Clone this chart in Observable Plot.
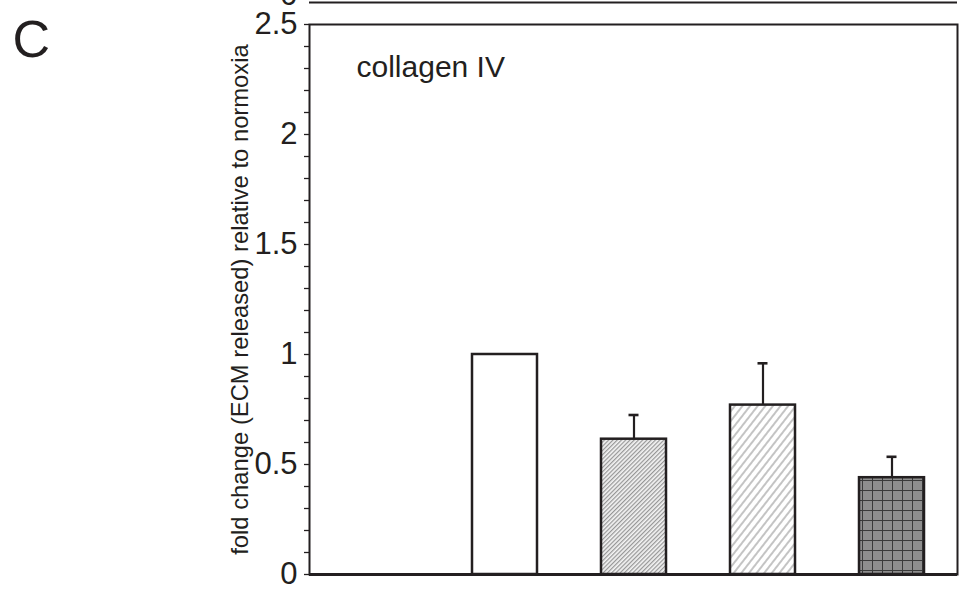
<!DOCTYPE html>
<html>
<head>
<meta charset="utf-8">
<script src="https://cdn.jsdelivr.net/npm/d3@7"></script>
<script src="https://cdn.jsdelivr.net/npm/@observablehq/plot@0.6"></script>
<style>
  html, body { margin: 0; padding: 0; background: white; }
  #chart { width: 960px; height: 592px; overflow: hidden; }
</style>
</head>
<body>
<div id="chart"></div>
<script>
// ---- data ----
const groups = ["group 1", "group 2", "group 3", "group 4", "group 5"];
const values = [0, 1.0, 0.615, 0.77, 0.44];
const errors = [0, 0, 0.11, 0.19, 0.095];
const fills = ["white", "white", "url(#hatchDense)", "url(#hatchSparse)", "url(#gridFill)"];
const majorTicks = [0, 0.5, 1, 1.5, 2, 2.5];
const minorTicks = d3.range(0, 26).map(i => i / 10);
const panelLabel = "C";
const protein = "collagen IV";
const yLabel = "fold change (ECM released) relative to normoxia";
const upperPanelBaseline = [2.6]; // baseline ("0") of the panel above, cropped at the top
const upperPanelLabel = ["0"];

const data = groups.map((g, i) => ({group: g, value: values[i], err: errors[i], fill: fills[i]}));
const withErr = data.filter(d => d.err > 0);

const ink = "#231f20";
const font = "'Liberation Sans', Arial, Helvetica, sans-serif";
const isMajor = t => majorTicks.some(m => Math.abs(m - t) < 1e-6);

const chart = Plot.plot({
  width: 960,
  height: 592,
  marginLeft: 309,
  marginRight: 3,
  marginTop: 24,
  marginBottom: 18,
  style: {fontFamily: font, fontSize: "31px", color: ink, background: "white"},
  x: {domain: groups, paddingInner: 0.5, paddingOuter: 0.25, axis: null},
  y: {
    domain: [0, 2.5],
    ticks: minorTicks,
    tickFormat: t => isMajor(t) ? String(+t.toFixed(1)) : "",
    tickSize: 5,
    tickPadding: 7,
    label: null
  },
  color: {type: "identity"},
  marks: [
    Plot.frame({stroke: ink, strokeWidth: 2}),
    Plot.ruleY([0], {stroke: ink, strokeWidth: 2.8}),
    Plot.ruleY(upperPanelBaseline, {stroke: ink, strokeWidth: 2}),
    Plot.text(upperPanelLabel, {y: () => upperPanelBaseline[0], text: d => d, frameAnchor: "left", textAnchor: "end", lineAnchor: "middle", dx: -12, dy: -7, fontSize: 31, fill: ink}),
    Plot.barY(data, {x: "group", y: "value", fill: "fill", stroke: ink, strokeWidth: 2.5}),
    Plot.ruleX(withErr, {x: "group", y1: "value", y2: d => d.value + d.err, stroke: ink, strokeWidth: 2.2}),
    Plot.tickY(withErr, {x: "group", y: d => d.value + d.err, stroke: ink, strokeWidth: 2.6, insetLeft: 27.5, insetRight: 27.5}),
    Plot.text([protein], {frameAnchor: "top-left", dx: 47, dy: 52, textAnchor: "start", lineAnchor: "bottom", fontSize: 30, fill: ink}),
    Plot.text([yLabel], {frameAnchor: "left", rotate: -90, dx: -62, dy: 0, textAnchor: "middle", lineAnchor: "bottom", fontSize: 23.8, fill: ink}),
    Plot.text([panelLabel], {frameAnchor: "top-left", dx: -297, dy: 32, textAnchor: "start", lineAnchor: "bottom", fontSize: 52, fill: ink})
  ]
});

chart.insertAdjacentHTML("afterbegin", `
<defs>
  <pattern id="hatchDense" patternUnits="userSpaceOnUse" width="3" height="3" patternTransform="rotate(45)">
    <rect width="3" height="3" fill="#f4f4f4"/>
    <line x1="0.7" y1="0" x2="0.7" y2="3" stroke="#808080" stroke-width="1"/>
  </pattern>
  <pattern id="hatchSparse" patternUnits="userSpaceOnUse" width="6" height="6" patternTransform="rotate(38)">
    <rect width="6" height="6" fill="white"/>
    <line x1="1" y1="0" x2="1" y2="6" stroke="#8a8a8a" stroke-width="1"/>
  </pattern>
  <pattern id="gridFill" patternUnits="userSpaceOnUse" x="862" y="0" width="10" height="10">
    <rect width="10" height="10" fill="#8e8e8e"/>
    <path d="M0,0.5H10M0.5,0V10" stroke="#3a3a3a" stroke-width="1"/>
  </pattern>
</defs>`);

chart.querySelectorAll("[aria-label='y-axis tick']").forEach(g => { g.setAttribute("stroke", ink); g.setAttribute("stroke-width", "1.3"); });
document.getElementById("chart").appendChild(chart);
</script>
</body>
</html>
